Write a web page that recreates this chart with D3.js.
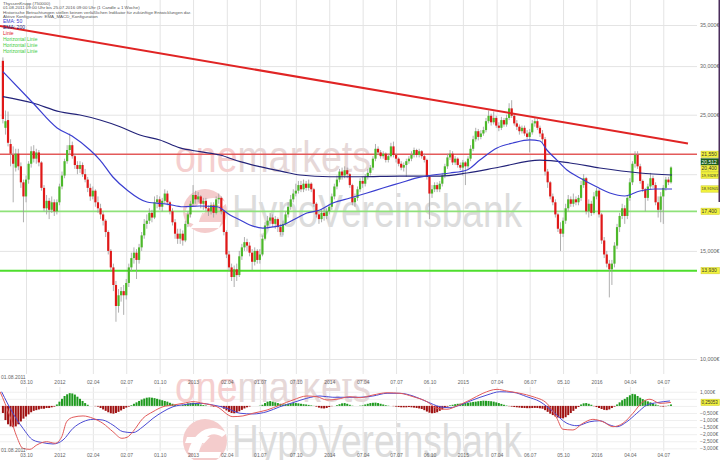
<!DOCTYPE html>
<html><head><meta charset="utf-8">
<script src="https://cdn.jsdelivr.net/npm/d3@7"></script>
<style>
html,body{margin:0;padding:0;background:#fff;}
svg{display:block;font-family:"Liberation Sans",Arial,sans-serif;}
</style></head><body>
<svg id="c" width="720" height="460"></svg>
<script>
// ---------------- DATA ----------------
const startDate = "2011-08-01", endDate = "2016-07-25";
const titleLines = ["ThyssenKrupp (750000)",
  "01.08.2011 09:00 Uhr bis 25.07.2016 09:00 Uhr (1 Candle = 1 Woche)",
  "Historische Betrachtungen stellen keinen verläßlichen Indikator für zukünftige Entwicklungen dar.",
  "Aktive Konfiguration: EMA_MACD_Konfiguration"];
const legendLabels = ["EMA: 50","EMA: 200","Linie","Horizontal Linie","Horizontal Linie","Horizontal Linie"];

const open = [30.6,23.8,24.5,22.4,21.5,20.5,21.6,20.6,19.4,18.4,
19.6,20.8,21.8,21.2,21.7,20.9,19.0,17.6,18.1,17.5,
18.0,17.4,18.0,19.1,19.9,21.0,21.9,22.3,21.4,20.7,
20.4,20.7,20.0,19.6,19.0,18.4,18.8,18.0,17.6,17.2,
16.8,16.1,15.0,14.1,13.2,12.2,12.7,12.9,12.7,13.3,
14.1,14.6,14.9,14.5,15.2,15.9,16.6,16.8,17.3,17.0,
18.0,18.2,17.7,18.1,18.6,18.0,17.4,16.7,16.0,15.7,
16.0,15.6,16.6,17.2,17.9,18.5,18.2,18.4,17.9,18.1,
17.6,17.4,17.8,17.3,18.2,18.3,17.4,16.1,14.8,14.1,
13.6,14.0,13.7,14.7,15.2,15.5,15.3,14.9,14.4,15.0,
14.5,14.8,15.7,16.5,16.8,17.0,16.6,16.9,16.4,16.1,
16.6,17.2,17.7,18.2,18.6,18.8,19.2,18.9,19.3,19.0,
19.3,18.9,17.9,17.2,16.9,17.3,17.1,17.4,17.7,18.4,
19.1,19.6,20.2,19.9,20.3,20.0,19.2,18.0,18.3,18.9,
19.5,19.3,19.8,20.1,20.5,21.2,22.0,21.7,21.4,21.6,
21.1,21.4,22.2,21.5,21.2,20.8,20.5,20.7,21.0,21.2,
21.5,21.9,21.5,21.8,21.4,21.1,19.8,18.6,18.9,19.2,
18.9,19.3,19.9,20.6,21.3,21.6,20.9,21.2,20.7,20.5,
20.9,20.6,21.2,22.0,22.8,23.5,23.0,23.3,23.6,24.4,
24.9,24.3,24.7,24.0,23.8,24.5,24.1,24.7,25.6,24.9,
24.2,23.9,23.5,23.8,23.3,23.0,23.4,24.2,24.4,23.8,
23.3,22.8,20.2,19.4,18.4,18.0,17.2,16.3,16.0,16.8,
17.6,18.2,17.9,18.2,18.0,18.3,19.2,19.7,17.4,17.9,
17.3,18.4,18.8,17.2,15.6,14.8,14.3,14.0,14.3,15.3,
16.4,17.1,17.6,17.1,18.3,19.4,20.8,21.5,20.6,19.5,
18.9,18.3,19.1,19.7,19.2,18.0,17.5,18.4,19.0,19.6,
19.4];
const close = [24.6,24.4,22.5,21.6,20.8,21.6,20.6,19.4,18.4,19.6,
20.8,21.8,21.2,21.7,20.9,19.0,17.6,18.1,17.5,18.0,
17.4,18.0,19.1,19.9,21.0,21.9,22.3,21.4,20.7,20.4,
20.7,20.0,19.6,19.0,18.4,18.8,18.0,17.6,17.2,16.8,
16.1,15.0,14.1,13.2,12.2,12.7,12.9,12.7,13.3,14.1,
14.6,14.9,14.5,15.2,15.9,16.6,16.8,17.3,17.0,18.0,
18.2,17.7,18.1,18.6,18.0,17.4,16.7,16.0,15.7,16.0,
15.6,16.6,17.2,17.9,18.5,18.2,18.4,17.9,18.1,17.6,
17.4,17.8,17.3,18.2,18.3,17.4,16.1,14.8,14.1,13.6,
14.0,13.7,14.7,15.2,15.5,15.3,14.9,14.4,15.0,14.5,
14.8,15.7,16.5,16.8,17.0,16.6,16.9,16.4,16.1,16.6,
17.2,17.7,18.2,18.6,18.8,19.2,18.9,19.3,19.0,19.3,
18.9,17.9,17.2,16.9,17.3,17.1,17.4,17.7,18.4,19.1,
19.6,20.2,19.9,20.3,20.0,19.2,18.0,18.3,18.9,19.5,
19.3,19.8,20.1,20.5,21.2,22.0,21.7,21.4,21.6,21.1,
21.4,22.2,21.5,21.2,20.8,20.5,20.7,21.0,21.2,21.5,
21.9,21.5,21.8,21.4,21.1,19.8,18.6,18.9,19.2,18.9,
19.3,19.9,20.6,21.3,21.6,20.9,21.2,20.7,20.5,20.9,
20.6,21.2,22.0,22.8,23.5,23.0,23.3,23.6,24.4,24.9,
24.3,24.7,24.0,23.8,24.5,24.1,24.7,25.6,24.9,24.2,
23.9,23.5,23.8,23.3,23.0,23.4,24.2,24.4,23.8,23.3,
22.8,20.2,19.4,18.4,18.0,17.2,16.3,16.0,16.8,17.6,
18.2,17.9,18.2,18.0,18.3,19.2,19.7,17.4,17.9,17.3,
18.4,18.8,17.2,15.6,14.8,14.3,14.0,14.3,15.3,16.4,
17.1,17.6,17.1,18.3,19.4,20.8,21.5,20.6,19.5,18.9,
18.3,19.1,19.7,19.2,18.0,17.5,18.4,19.0,19.6,19.4,
20.512];
const high = [31.0,25.4,25.3,22.8,22.2,22.0,22.0,20.9,19.6,19.9,
21.0,22.2,22.3,22.0,21.9,21.0,19.2,18.5,18.3,18.4,
18.2,18.2,19.3,20.2,21.2,22.3,23.3,22.6,21.6,21.0,
21.0,20.9,20.4,19.8,19.3,19.1,18.9,18.4,17.9,17.4,
16.9,16.2,15.1,14.3,13.4,13.0,13.1,13.2,13.5,14.3,
14.9,15.2,15.1,15.4,16.1,16.9,17.2,17.6,17.5,18.4,
18.5,18.4,18.3,18.9,18.8,18.1,17.6,16.9,16.3,16.3,
16.2,16.8,17.4,18.1,19.2,18.8,18.7,18.5,18.3,18.3,
17.8,18.0,18.0,18.4,18.6,18.4,17.5,16.2,15.0,14.3,
14.2,14.3,15.0,15.4,15.8,15.7,15.5,15.1,15.2,15.1,
15.1,15.9,16.7,17.1,17.3,17.2,17.1,17.0,16.6,16.8,
17.4,18.0,18.5,18.9,19.3,19.5,19.5,19.6,19.5,19.6,
19.4,19.0,18.0,17.4,17.5,17.6,17.6,17.9,18.6,19.3,
19.9,20.4,20.5,20.6,20.5,20.1,19.3,18.6,19.1,19.7,
19.8,20.0,20.4,20.7,21.4,22.4,22.2,21.9,21.8,21.7,
21.6,22.5,22.6,21.6,21.3,21.0,20.9,21.2,21.4,21.8,
22.1,22.0,22.0,21.9,21.6,21.2,19.9,19.2,19.4,19.4,
19.5,20.1,20.8,21.6,21.9,21.8,21.4,21.3,20.9,21.1,
21.0,21.4,22.3,23.1,23.8,23.7,23.6,23.9,24.7,25.4,
25.1,25.3,24.9,24.3,24.8,24.7,25.0,26.1,26.4,25.1,
24.5,24.1,24.0,24.0,23.6,23.7,24.5,24.8,24.6,24.0,
23.6,23.0,20.4,19.5,18.6,18.2,17.3,16.7,17.0,17.9,
18.5,18.4,18.6,18.4,18.5,19.5,20.0,19.8,18.2,18.1,
18.7,19.0,18.9,17.3,15.8,15.0,14.5,14.5,15.5,16.6,
17.3,17.9,17.8,18.5,19.7,21.0,21.8,21.8,20.8,19.6,
19.0,19.3,20.1,19.9,19.4,18.4,18.7,19.2,19.8,19.8,
20.6];
const low = [24.2,23.2,22.2,20.6,18.0,20.2,20.3,19.0,16.7,18.0,
19.3,20.5,20.9,20.8,20.6,18.8,17.4,17.2,16.9,17.3,
17.1,17.2,17.8,18.9,19.7,20.8,21.5,21.2,20.4,20.0,
20.1,19.8,19.4,18.7,18.1,18.2,17.7,17.3,16.9,16.5,
15.8,14.8,13.9,12.9,11.5,11.9,12.4,11.8,12.5,13.1,
13.9,14.3,13.5,14.3,15.0,15.7,16.3,16.6,16.7,16.9,
17.6,17.5,17.4,17.9,17.8,17.2,16.5,15.7,15.4,15.4,
15.3,15.5,16.4,17.0,17.7,17.9,18.0,17.6,17.5,17.4,
17.1,17.2,17.0,17.2,17.9,17.2,15.9,14.6,13.9,13.4,
13.1,13.4,13.6,14.5,15.0,15.0,14.7,13.95,14.2,14.3,
14.3,14.7,15.6,16.3,16.6,16.4,16.3,16.1,15.9,15.9,
16.5,17.0,17.5,18.0,18.4,18.6,18.7,18.7,18.8,18.8,
18.7,17.7,17.0,16.6,16.7,16.8,16.9,17.2,17.5,18.2,
18.9,19.4,19.6,19.7,19.7,19.0,17.8,17.7,18.1,18.7,
19.0,19.1,19.6,19.9,20.3,21.0,21.5,21.2,21.2,20.9,
20.9,21.3,21.3,20.9,20.6,20.3,20.2,19.8,20.8,21.0,
21.3,21.3,21.3,21.2,20.9,19.6,16.9,18.3,18.7,18.7,
18.7,19.1,19.7,20.4,21.1,20.7,20.7,20.5,20.3,19.9,
19.2,20.4,21.0,21.8,22.6,22.7,22.8,23.1,23.4,24.2,
24.0,24.1,23.8,23.5,23.6,23.9,23.9,24.5,24.7,24.0,
23.6,23.2,23.3,23.1,22.8,21.7,23.2,23.9,23.6,23.0,
22.5,19.9,19.0,18.2,17.8,17.0,16.1,15.0,15.8,16.6,
17.4,17.7,17.7,17.8,17.8,18.1,19.0,17.2,17.0,17.1,
17.2,18.2,17.0,15.4,14.6,14.1,12.6,13.2,14.1,15.1,
16.1,16.9,16.6,16.9,18.1,19.2,20.5,20.4,19.3,18.7,
17.4,18.1,18.9,19.0,17.8,17.0,16.7,16.6,18.8,19.2,
19.3];
const histogram = [-0.5,-1.0,-1.3,-1.45,-1.5,-1.45,-1.3,-1.1,-0.9,-0.75,
-0.6,-0.45,-0.35,-0.3,-0.25,-0.2,-0.2,-0.15,-0.15,-0.1,
-0.05,0.1,0.3,0.5,0.7,0.82,0.9,0.88,0.8,0.65,
0.5,0.35,0.2,0.08,0,0,-0.02,-0.05,-0.15,-0.25,
-0.35,-0.45,-0.52,-0.55,-0.5,-0.42,-0.32,-0.22,-0.12,-0.05,
0.05,0.15,0.25,0.35,0.45,0.52,0.58,0.6,0.58,0.55,
0.5,0.45,0.4,0.35,0.3,0.22,0.15,0.08,0.03,0.02,
0.06,0.12,0.18,0.2,0.22,0.2,0.15,0.1,0.06,0.03,
0,-0.02,-0.05,0,0,-0.08,-0.2,-0.32,-0.42,-0.5,
-0.52,-0.47,-0.38,-0.28,-0.18,-0.1,-0.04,0,0,0,
0.02,0.08,0.2,0.3,0.34,0.3,0.25,0.2,0.15,0.1,
0.12,0.15,0.18,0.2,0.2,0.18,0.15,0.12,0.1,0.07,
0.04,0.01,-0.05,-0.12,-0.17,-0.18,-0.15,-0.08,-0.02,0,
0.05,0.12,0.18,0.2,0.15,0.08,0.02,0,0,0.02,
0.04,0.1,0.15,0.2,0.22,0.23,0.2,0.15,0.1,0.05,
0.02,0,-0.02,-0.05,-0.08,-0.1,-0.1,-0.1,-0.08,-0.1,
-0.12,-0.15,-0.18,-0.22,-0.3,-0.4,-0.48,-0.52,-0.5,-0.45,
-0.35,-0.25,-0.15,-0.05,0.04,0.08,0.12,0.15,0.16,0.18,
0.2,0.22,0.25,0.28,0.3,0.33,0.35,0.37,0.36,0.35,
0.33,0.3,0.25,0.2,0.14,0.08,0.03,-0.02,-0.05,-0.08,
-0.1,-0.12,-0.14,-0.15,-0.16,-0.16,-0.15,-0.14,-0.15,-0.17,
-0.2,-0.3,-0.42,-0.55,-0.65,-0.75,-0.82,-0.86,-0.88,-0.8,
-0.65,-0.5,-0.35,-0.2,-0.08,0.1,0.18,0.2,0.15,0.08,
-0.02,-0.08,-0.15,-0.22,-0.28,-0.3,-0.25,-0.15,-0.05,0.1,
0.25,0.4,0.5,0.62,0.75,0.85,0.82,0.7,0.58,0.48,
0.4,0.32,0.25,0.18,0.1,0.04,-0.03,-0.05,-0.02,0.03,
0.1];
// [week index, value]
const ema50 = [[0,29.38],[11.7,26.12],[21.1,23.79],[26.9,23.08],[33.9,21.90],[37.8,21.09],[42.8,19.79],[48.3,18.85],[56.1,18.02],[63.9,17.88],[70.1,17.70],[76.7,17.75],[83.3,17.70],[88.4,17.16],[92.3,16.84],[96.1,16.53],[101.2,16.34],[105.1,16.41],[109,16.53],[112.9,16.84],[118.3,17.29],[123.4,17.49],[128.4,17.95],[135.1,18.29],[141.7,18.64],[147.9,18.99],[154.5,19.35],[161.1,19.72],[167.4,19.94],[174,20.09],[180.6,20.32],[185.6,21.09],[192.3,22.07],[198.5,22.48],[205.1,22.74],[209,22.65],[211.7,21.90],[215.6,21.09],[219.5,20.32],[224.6,19.72],[231.2,19.06],[236.2,18.64],[242,18.43],[247.9,18.78],[253.7,18.92],[260.4,18.92]];
const ema200 = [[0,26.75],[11.7,26.12],[22.2,25.28],[30,24.97],[37.8,24.51],[45.6,23.90],[53.3,23.17],[61.1,22.74],[68.9,22.07],[76.7,21.76],[84.5,21.49],[92.3,20.96],[100,20.57],[109,20.19],[115.6,19.94],[127.3,19.81],[139,19.81],[154.5,19.86],[170.1,19.86],[180.6,20.09],[193.4,20.55],[209,21.09],[220.7,20.86],[232.3,20.47],[247.9,20.09],[260.4,19.94]];
const macdLine = [[-1.1,1.0],[2.8,-0.76],[5.4,-2.18],[7.8,-3.0],[10.5,-3.07],[13.2,-2.76],[17,-2.53],[20.3,-2.64],[22.9,-2.18],[24.8,-1.12],[27.3,-0.8],[31.2,-0.71],[35.1,-0.88],[38.9,-1.23],[42.8,-1.82],[46.3,-2.29],[48.3,-2.22],[50.6,-1.82],[54.5,-0.88],[58.4,-0.41],[62.3,-0.06],[66.2,0.06],[70.1,0.18],[74,0.30],[77.9,0.18],[83.3,-0.06],[89.5,-0.76],[93.4,-0.71],[97.3,-0.52],[102.8,-0.29],[107.8,0.06],[112.9,0.42],[118.3,0.70],[122.2,0.65],[126.1,0.42],[130,0.47],[135.1,0.65],[139,0.58],[144,0.77],[149.5,0.93],[154.5,0.89],[159.6,0.65],[165,0.30],[168.9,-0.17],[172.8,-0.24],[176.7,0.0],[181.8,0.42],[186.8,0.89],[192.3,1.17],[196.1,1.05],[201.2,0.89],[206.3,0.65],[211.7,0.18],[215.6,-0.88],[217.9,-1.65],[221.8,-1.70],[225.7,-1.23],[229.6,-0.95],[233.5,-1.12],[237.4,-1.47],[241.3,-1.23],[245.2,-0.52],[249.1,0.30],[251.8,0.47],[255.7,0.18],[260,0.25]];
const signalLine = [[-0.5,1.0],[3.9,-0.52],[7.8,-1.58],[11.7,-2.41],[15.6,-2.60],[19.5,-2.69],[23.4,-2.41],[27.3,-1.58],[31.2,-1.12],[35.1,-0.95],[38.9,-1.0],[42.8,-1.35],[46.7,-1.82],[50.6,-1.89],[54.5,-1.47],[58.4,-0.88],[62.3,-0.41],[66.2,-0.06],[71.6,0.11],[76.7,0.18],[81.8,0.06],[87.2,-0.17],[92.3,-0.52],[97.3,-0.57],[102.8,-0.41],[107.8,-0.06],[112.9,0.23],[118.3,0.54],[123.4,0.70],[128.4,0.61],[133.9,0.61],[139,0.61],[144,0.70],[149.5,0.89],[154.5,0.89],[159.6,0.70],[165,0.30],[170.1,-0.06],[174,-0.13],[177.9,0.06],[182.9,0.42],[188.4,0.77],[193.4,1.0],[198.5,0.96],[203.9,0.65],[209,0.30],[214.1,-0.41],[219.5,-1.23],[223.4,-1.40],[228.4,-1.12],[232.3,-1.05],[236.2,-1.35],[239,-1.47],[242.8,-1.12],[246.7,-0.52],[250.6,0.06],[254.5,0.23],[259.6,0.35]];
const trendLine = [[-1.13,34.87],[266.6,22.44]];
const resistanceLevel = 21.55;
const supportLevels = [17.40, 13.93];
const priceTicks = [10,15,20,25,30,35];
const macdTicks = [1,0.5,0,-0.5,-1,-1.5,-2,-2.5,-3];
const xTickDates = ["2011-10-03","2012-01-02","2012-04-02","2012-07-02","2012-10-01","2012-12-31","2013-04-02","2013-07-01","2013-10-07","2014-01-06","2014-04-07","2014-07-07","2014-10-06","2015-01-05","2015-04-07","2015-07-06","2015-10-05","2016-01-04","2016-04-04","2016-07-04"];
const xTickLabels = ["03.10","2012","02.04","02.07","01.10","2013","02.04","01.07","07.10","2014","07.04","07.07","06.10","2015","07.04","06.07","05.10","2016","04.04","04.07"];
const priceBoxLabels = ["21,550","20,512","20,400","19,93287","18,91905","17,400","13,930"];
const priceBoxValues = [21.55, 20.512, 20.40, 19.93, 18.92, 17.40, 13.93];
const macdBoxLabel = "0,25053", macdBoxValue = 0.25;

// ---------------- SCALES ----------------
const svg = d3.select('#c');
svg.append('rect').attr('width',720).attr('height',460).attr('fill','#fff');
const parse = d3.utcParse('%Y-%m-%d');
const t0 = parse(startDate), t1 = parse(endDate);
const x = d3.scaleUtc().domain([t0, t1]).range([2.9, 671.0]);
const weekDate = w => new Date(t0.getTime() + w * 7 * 864e5);
const xw = w => x(weekDate(w));
const dates = d3.utcMonday.range(t0, d3.utcDay.offset(t1, 1));
const yP = d3.scaleLog().domain([10, 35]).range([359, 25]);
const yM = d3.scaleLinear().domain([-3, 1]).range([448.35, 391.75]);
const plotR = 697;
const tickDates = xTickDates.map(parse);
const fmtDE = (v, d) => d3.format(`,.${d}f`)(v).replace(/,/g,'#').replace('.',',').replace(/#/g,'.');

const defs = svg.append('defs');
defs.append('clipPath').attr('id','clipMain').append('rect').attr('x',0).attr('y',0).attr('width',plotR).attr('height',374);
defs.append('clipPath').attr('id','clipMacd').append('rect').attr('x',0).attr('y',379).attr('width',plotR).attr('height',81);

// value boxes layout (computed first so that covered axis labels can be skipped)
const boxes = priceBoxLabels.map((t,i)=>({t, v:priceBoxValues[i], y:yP(priceBoxValues[i])})).sort((a,b)=>a.y-b.y);
for(let i=boxes.length-2;i>=0;i--){ if(boxes[i].y > boxes[i+1].y-6.6) boxes[i].y = boxes[i+1].y-6.6; }
boxes.push({t:macdBoxLabel, v:macdBoxValue, y:yM(macdBoxValue), macd:true});
const covered = yy => boxes.some(b => Math.abs(b.y-yy) < 5.5);

// ---------------- GRID ----------------
function styleGrid(g){ g.select('.domain').remove(); g.selectAll('line').attr('stroke','#e4e4e4').attr('stroke-width',1); }
svg.append('g').attr('transform','translate(0,374)')
  .call(d3.axisBottom(x).tickValues(tickDates).tickSize(-374).tickFormat('')).call(styleGrid);
svg.append('g').attr('transform','translate(0,451)')
  .call(d3.axisBottom(x).tickValues(tickDates).tickSize(-64).tickFormat('')).call(styleGrid);
svg.append('g').call(d3.axisRight(yP).tickValues(priceTicks).tickSize(plotR).tickFormat('')).call(styleGrid);
svg.append('g').call(d3.axisRight(yM).tickValues(macdTicks).tickSize(plotR).tickFormat('')).call(g=>{styleGrid(g); g.selectAll('line').attr('stroke','#efefef');});

// ---------------- WATERMARK ----------------
function watermark(clipId, dy){
  const outer = svg.append('g').attr('clip-path',`url(#${clipId})`);
  const g = outer.append('g').attr('transform',`translate(0,${dy})`);
  const t = g.append('text').attr('x',175).attr('y',172).attr('font-size',44)
    .attr('textLength',196).attr('lengthAdjust','spacingAndGlyphs');
  t.append('tspan').attr('fill','#f5cfcf').text('one');
  t.append('tspan').attr('fill','#e6d8d8').text('markets');
  g.append('circle').attr('cx',205).attr('cy',211).attr('r',22).attr('fill','#f4cccc');
  g.append('path').attr('d','M188,222 C194,200 212,192 227,203 L222,207 C212,200 202,206 198,226 Z').attr('fill','#fff');
  g.append('path').attr('d','M187,207 L210,207 L196,222 L221,222 L219,228 L190,228 L204,213 L185,213 Z').attr('fill','#fff');
  g.append('text').attr('x',232).attr('y',227).attr('font-size',46).attr('fill','#dcdcdc')
    .attr('textLength',290).attr('lengthAdjust','spacingAndGlyphs').text('HypoVereinsbank');
}
watermark('clipMain', 0);
watermark('clipMacd', 230);

// ---------------- HORIZONTAL LINES ----------------
svg.append('line').attr('x1',0).attr('x2',plotR).attr('y1',yP(resistanceLevel)).attr('y2',yP(resistanceLevel))
  .attr('stroke','#e35a5a').attr('stroke-width',1.5);
svg.selectAll('line.sup').data(supportLevels).join('line').attr('class','sup')
  .attr('x1',0).attr('x2',plotR).attr('y1',d=>yP(d)).attr('y2',d=>yP(d))
  .attr('stroke',(d,i)=>i===0?'#8fe27a':'#4ede2c').attr('stroke-width',(d,i)=>i===0?1.6:2);

// ---------------- CANDLES ----------------
const idx = d3.range(dates.length);
const cg = svg.append('g').attr('clip-path','url(#clipMain)');
cg.selectAll('line.wick').data(idx).join('line').attr('class','wick')
  .attr('x1',i=>x(dates[i])).attr('x2',i=>x(dates[i]))
  .attr('y1',i=>yP(high[i])).attr('y2',i=>yP(low[i]))
  .attr('stroke','#9a9a9a').attr('stroke-width',0.8);
cg.selectAll('rect.body').data(idx).join('rect').attr('class','body')
  .attr('x',i=>x(dates[i])-1.1).attr('width',2.2)
  .attr('y',i=>yP(Math.max(open[i],close[i])))
  .attr('height',i=>Math.max(0.8, Math.abs(yP(open[i])-yP(close[i]))))
  .attr('fill',i=>close[i]>=open[i]?'#4cb82a':'#e01818');

// ---------------- EMA LINES ----------------
const lineP = d3.line().x(d=>xw(d[0])).y(d=>yP(d[1])).curve(d3.curveMonotoneX);
cg.append('path').attr('d',lineP(ema200)).attr('fill','none').attr('stroke','#232379').attr('stroke-width',1.2);
cg.append('path').attr('d',lineP(ema50)).attr('fill','none').attr('stroke','#3a3ed0').attr('stroke-width',1.2);
svg.append('line').attr('x1',xw(trendLine[0][0])).attr('y1',yP(trendLine[0][1]))
  .attr('x2',xw(trendLine[1][0])).attr('y2',yP(trendLine[1][1]))
  .attr('stroke','#e02424').attr('stroke-width',2);

// ---------------- MACD ----------------
const mg = svg.append('g');
mg.selectAll('rect.hist').data(idx).join('rect').attr('class','hist')
  .attr('x',i=>x(dates[i])-1).attr('width',2)
  .attr('y',i=>Math.min(yM(0),yM(histogram[i])))
  .attr('height',i=>Math.abs(yM(histogram[i])-yM(0)))
  .attr('fill',i=>histogram[i]>=0?'#1f9a1f':'#a01212');
const lineM = d3.line().x(d=>xw(d[0])).y(d=>yM(d[1])).curve(d3.curveMonotoneX);
mg.append('path').attr('d',lineM(signalLine)).attr('fill','none').attr('stroke','#4a4ad4').attr('stroke-width',1);
mg.append('path').attr('d',lineM(macdLine)).attr('fill','none').attr('stroke','#e25a5a').attr('stroke-width',1);

// ---------------- AXES LABELS ----------------
function styleLabels(g, size){ g.select('.domain').remove(); g.selectAll('line').remove();
  g.selectAll('text').attr('fill','#666').attr('font-size',size).attr('font-family','"Liberation Sans",Arial,sans-serif'); }
svg.append('g').attr('transform','translate(700,0)')
  .call(d3.axisRight(yP).tickValues(priceTicks.filter(v=>!covered(yP(v)))).tickSize(0).tickPadding(0).tickFormat(v=>fmtDE(v,3)+'€'))
  .call(g=>styleLabels(g,5.4));
svg.append('g').attr('transform','translate(700,0)')
  .call(d3.axisRight(yM).tickValues(macdTicks.filter(v=>!covered(yM(v)))).tickSize(0).tickPadding(0).tickFormat(v=>fmtDE(v,3)+'€'))
  .call(g=>styleLabels(g,5.0));
[382.6, 455].forEach(yy=>{
  svg.append('g').attr('transform',`translate(0,${yy})`)
    .call(d3.axisBottom(x).tickValues(tickDates).tickSize(0).tickPadding(0).tickFormat((d,i)=>xTickLabels[i]))
    .call(g=>{styleLabels(g,5); g.selectAll('text').attr('y',0).attr('dy','0.35em');});
});
[377.4, 449.8].forEach(yy=>{
  svg.append('text').attr('x',1).attr('y',yy).attr('dy','0.35em').attr('font-size',5).attr('fill','#666').text(startDate.split('-').reverse().join('.'));
});

// ---------------- VALUE BOXES ----------------
const lastClose = close[close.length-1];
const isClose = d => !d.macd && d.v === lastClose;
const bg = svg.append('g');
bg.selectAll('rect').data(boxes).join('rect').attr('x',701).attr('y',d=>d.y-3.2).attr('width',18.5).attr('height',6.4)
  .attr('fill',d=>isClose(d)?'#1d5f1d':'#f2f23c').attr('stroke',d=>isClose(d)?'#1d5f1d':'#c9c930').attr('stroke-width',0.5);
bg.selectAll('text').data(boxes).join('text').attr('x',701.6).attr('y',d=>d.y).attr('dy','0.35em')
  .attr('font-size',d=>d.t.length>7?4.0:(d.t.length>6?4.5:5.0)).attr('fill',d=>isClose(d)?'#fff':'#333')
  .text(d=>d.t);

// right scroll bar
svg.append('rect').attr('x',718.5).attr('y',0).attr('width',1.5).attr('height',202).attr('fill','#4a2d5c');

// ---------------- HEADER / LEGEND ----------------
titleLines.forEach((t,i)=>{
  svg.append('text').attr('x',3).attr('y',3.7+i*4.2).attr('dy','0.35em').attr('font-size',4.4).attr('fill','#555').text(t);
});
const legendColors = ['#3a3ed0','#232379','#e02424','#44cc44','#44cc44','#44cc44'];
legendLabels.forEach((t,i)=>{
  svg.append('text').attr('x',3).attr('y',21.5+i*5.85).attr('dy','0.35em').attr('font-size',5).attr('fill',legendColors[i]).text(t);
});
</script>
</body></html>
